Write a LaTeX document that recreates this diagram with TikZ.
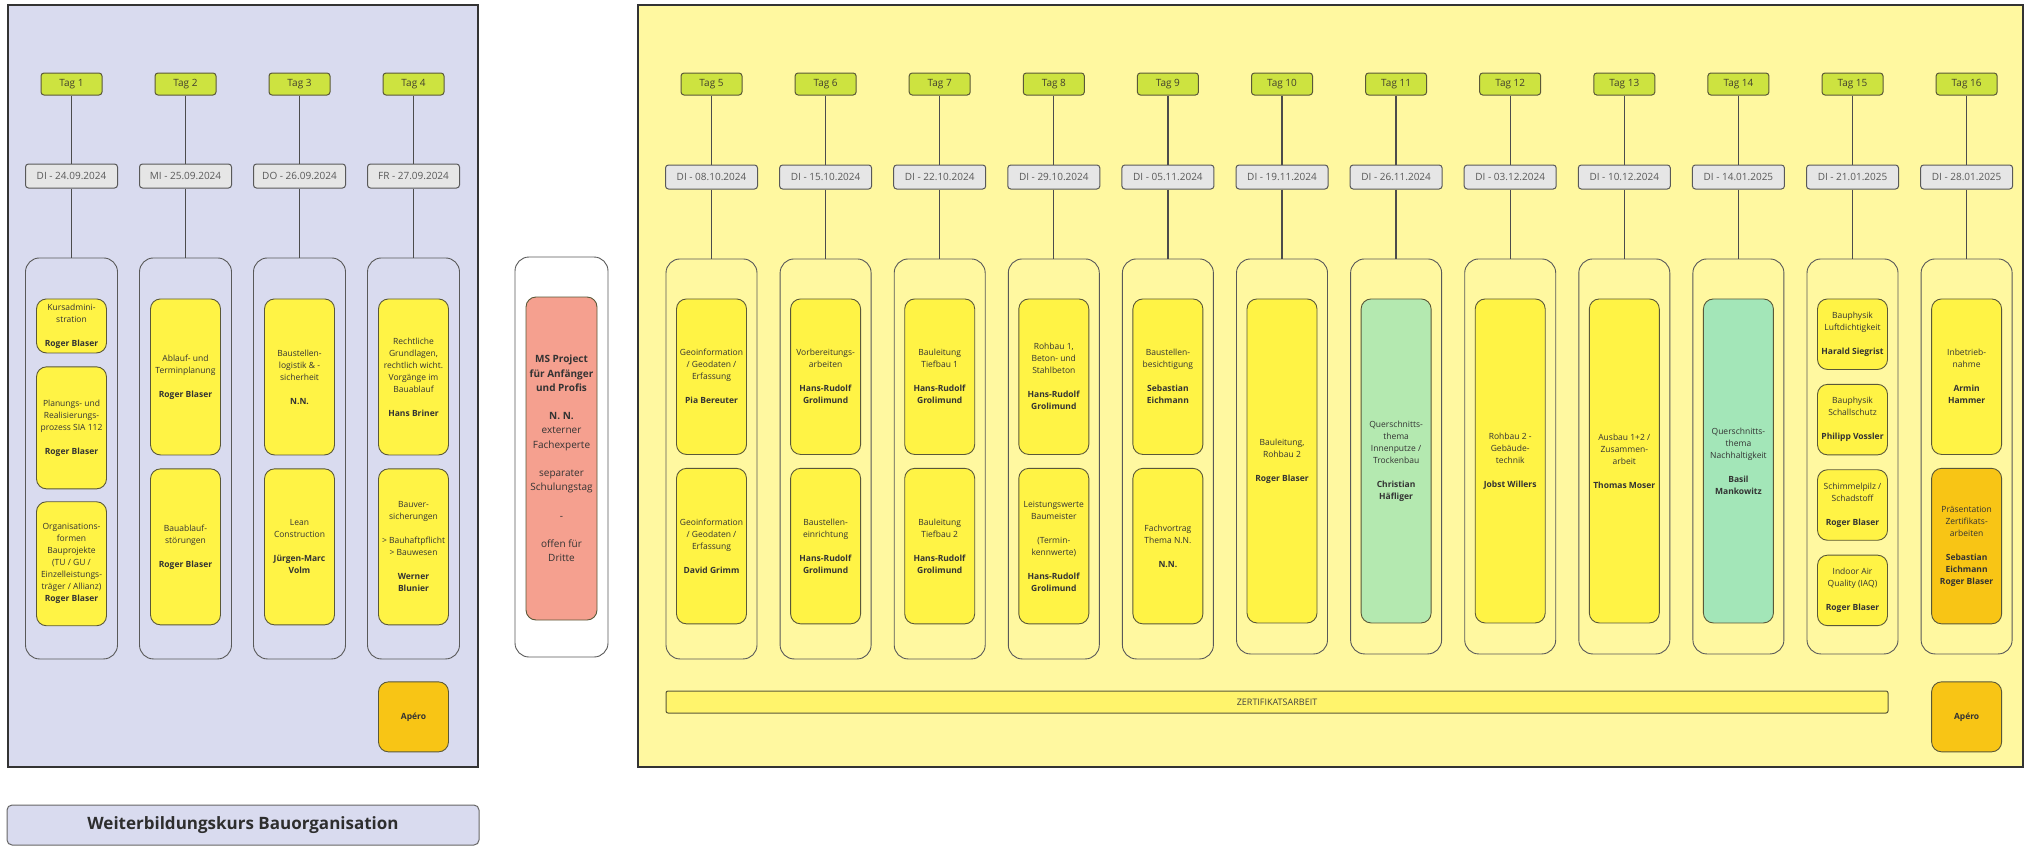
\documentclass[tikz,border=0pt]{standalone}
\usepackage{fontspec}
\setmainfont{Open Sans}
\usepackage{xcolor}
\usepackage{tikz}
\usetikzlibrary{positioning}

\definecolor{paneblue}{HTML}{D9DBEF}
\definecolor{paneyellow}{HTML}{FFF8A0}
\definecolor{daylime}{HTML}{CDE340}
\definecolor{daygrey}{HTML}{E6E6E6}
\definecolor{topicyellow}{HTML}{FFF345}
\definecolor{topicgreen}{HTML}{B4E9B0}
\definecolor{topicmint}{HTML}{A3E6B8}
\definecolor{topicorange}{HTML}{F8C515}
\definecolor{topicsalmon}{HTML}{F5A08F}
\definecolor{barfill}{HTML}{FFF46C}
\definecolor{boxline}{HTML}{5A5838}

\newcommand\daysize{\fontsize{10}{12}\selectfont}
\newcommand\topicsize{\fontsize{8.5}{12}\selectfont}
\newcommand\mssize{\fontsize{10}{14.2}\selectfont}

\begin{document}
\begin{tikzpicture}[x=1pt,y=-1pt,
  panel/.style={draw=black!80,line width=1.6pt},
  daytag/.style={draw=boxline,line width=1pt,rounded corners=3pt,fill=daylime,minimum width=61pt,minimum height=22pt,inner sep=0pt,font=\daysize,text=black!70!olive},
  datebox/.style={draw=black!65,line width=1pt,rounded corners=3pt,fill=daygrey,minimum width=92pt,minimum height=24pt,inner sep=0pt,font=\daysize,text=black!65},
  daycol/.style={draw=black!65,line width=0.9pt,rounded corners=14pt,minimum width=92pt,minimum height=401pt},
  topic/.style={draw=boxline,line width=0.9pt,rounded corners=10pt,fill=topicyellow,minimum width=70pt,minimum height=#1,inner sep=1pt,align=center,font=\topicsize,text=black!80},
  topic/.default=155.5pt,
  link/.style={draw=black!70,line width=1.3pt}
]
\useasboundingbox (0,0) rectangle (2025,846);

% two course blocks
\draw[panel,fill=paneblue] (8,5) rectangle (478,767);
\draw[panel,fill=paneyellow] (638,5) rectangle (2023,767);
\node[draw=black!60,line width=1pt,rounded corners=5pt,fill=paneblue,minimum width=472pt,minimum height=40pt,font=\fontsize{17}{20}\selectfont\bfseries,text=black!82] (title) at (243,825) {Weiterbildungskurs Bauorganisation};

% block 1: days 1-4
\node[daytag] (tag1) at (71.5,84) {Tag 1};
\node[daytag,right=52pt of tag1] (tag2) {Tag 2};
\node[daytag,right=52pt of tag2] (tag3) {Tag 3};
\node[daytag,right=52pt of tag3] (tag4) {Tag 4};
\node[datebox,below=68pt of tag1] (date1) {DI - 24.09.2024};
\node[datebox,below=68pt of tag2] (date2) {MI - 25.09.2024};
\node[datebox,below=68pt of tag3] (date3) {DO - 26.09.2024};
\node[datebox,below=68pt of tag4] (date4) {FR - 27.09.2024};
\node[daycol,below=69pt of date1] (col1) {};
\node[daycol,below=69pt of date2] (col2) {};
\node[daycol,below=69pt of date3] (col3) {};
\node[daycol,below=69pt of date4] (col4) {};

\node[topic=54pt,below=41pt of col1.north] (t1a) {Kursadmini-\\stration\\[12pt]\textbf{Roger Blaser}};
\node[topic=122pt,below=13pt of t1a] (t1b) {Planungs- und\\Realisierungs-\\prozess SIA 112\\[12pt]\textbf{Roger Blaser}};
\node[topic=124pt,below=12pt of t1b] (t1c) {Organisations-\\formen\\Bauprojekte\\(TU / GU /\\Einzelleistungs-\\träger / Allianz)\\\textbf{Roger Blaser}};
\node[topic=156pt,below=41pt of col2.north] (t2a) {Ablauf- und\\Terminplanung\\[12pt]\textbf{Roger Blaser}};
\node[topic=156pt,below=13pt of t2a] (t2b) {Bauablauf-\\störungen\\[12pt]\textbf{Roger Blaser}};
\node[topic=156pt,below=41pt of col3.north] (t3a) {Baustellen-\\logistik \& -\\sicherheit\\[12pt]\textbf{N.N.}};
\node[topic=156pt,below=13pt of t3a] (t3b) {Lean\\Construction\\[12pt]\textbf{Jürgen-Marc}\\\textbf{Volm}};
\node[topic=156pt,below=41pt of col4.north] (t4a) {Rechtliche\\Grundlagen,\\rechtlich wicht.\\Vorgänge im\\Bauablauf\\[12pt]\textbf{Hans Briner}};
\node[topic=156pt,below=13pt of t4a] (t4b) {Bauver-\\sicherungen\\[12pt]> Bauhaftpflicht\\> Bauwesen\\[12pt]\textbf{Werner}\\\textbf{Blunier}};
\node[topic=70pt,minimum width=70pt,fill=topicorange,font=\topicsize\bfseries,below=22pt of col4] (apero4) {Apéro};

% extra training day
\node[daycol,minimum width=93pt,minimum height=400pt,fill=white] (msday) at (561.5,457) {};
\node[topic=323pt,minimum width=71pt,fill=topicsalmon,font=\mssize,below=40pt of msday.north] (msbox) {\textbf{MS Project}\\\textbf{für Anfänger}\\\textbf{und Profis}\\[14.2pt]\textbf{N. N.}\\externer\\Fachexperte\\[14.2pt]separater\\Schulungstag\\[14.2pt]-\\[14.2pt]offen für\\Dritte};

% block 2: days 5-16
\node[daytag] (tag5) at (711.5,84) {Tag 5};
\node[daytag,right=52.1pt of tag5] (tag6) {Tag 6};
\node[daytag,right=52.1pt of tag6] (tag7) {Tag 7};
\node[daytag,right=52.1pt of tag7] (tag8) {Tag 8};
\node[daytag,right=52.1pt of tag8] (tag9) {Tag 9};
\node[daytag,right=52.1pt of tag9] (tag10) {Tag 10};
\node[daytag,right=52.1pt of tag10] (tag11) {Tag 11};
\node[daytag,right=52.1pt of tag11] (tag12) {Tag 12};
\node[daytag,right=52.1pt of tag12] (tag13) {Tag 13};
\node[daytag,right=52.1pt of tag13] (tag14) {Tag 14};
\node[daytag,right=52.1pt of tag14] (tag15) {Tag 15};
\node[daytag,right=52.1pt of tag15] (tag16) {Tag 16};
\node[datebox,below=69pt of tag5] (date5) {DI - 08.10.2024};
\node[datebox,below=69pt of tag6] (date6) {DI - 15.10.2024};
\node[datebox,below=69pt of tag7] (date7) {DI - 22.10.2024};
\node[datebox,below=69pt of tag8] (date8) {DI - 29.10.2024};
\node[datebox,below=69pt of tag9] (date9) {DI - 05.11.2024};
\node[datebox,below=69pt of tag10] (date10) {DI - 19.11.2024};
\node[datebox,below=69pt of tag11] (date11) {DI - 26.11.2024};
\node[datebox,below=69pt of tag12] (date12) {DI - 03.12.2024};
\node[datebox,below=69pt of tag13] (date13) {DI - 10.12.2024};
\node[datebox,below=69pt of tag14] (date14) {DI - 14.01.2025};
\node[datebox,below=69pt of tag15] (date15) {DI - 21.01.2025};
\node[datebox,below=69pt of tag16] (date16) {DI - 28.01.2025};
\node[daycol,minimum width=91pt,minimum height=400pt,below=69pt of date5] (col5) {};
\node[daycol,minimum width=91pt,minimum height=400pt,below=69pt of date6] (col6) {};
\node[daycol,minimum width=91pt,minimum height=400pt,below=69pt of date7] (col7) {};
\node[daycol,minimum width=91pt,minimum height=400pt,below=69pt of date8] (col8) {};
\node[daycol,minimum width=91pt,minimum height=400pt,below=69pt of date9] (col9) {};
\node[daycol,minimum width=91pt,minimum height=395pt,below=69pt of date10] (col10) {};
\node[daycol,minimum width=91pt,minimum height=395pt,below=69pt of date11] (col11) {};
\node[daycol,minimum width=91pt,minimum height=395pt,below=69pt of date12] (col12) {};
\node[daycol,minimum width=91pt,minimum height=395pt,below=69pt of date13] (col13) {};
\node[daycol,minimum width=91pt,minimum height=395pt,below=69pt of date14] (col14) {};
\node[daycol,minimum width=91pt,minimum height=395pt,below=69pt of date15] (col15) {};
\node[daycol,minimum width=91pt,minimum height=395pt,below=69pt of date16] (col16) {};

\node[topic,below=40pt of col5.north] (t5a) {Geoinformation\\/ Geodaten /\\Erfassung\\[12pt]\textbf{Pia Bereuter}};
\node[topic,below=13pt of t5a] (t5b) {Geoinformation\\/ Geodaten /\\Erfassung\\[12pt]\textbf{David Grimm}};
\node[topic,below=40pt of col6.north] (t6a) {Vorbereitungs-\\arbeiten\\[12pt]\textbf{Hans-Rudolf}\\\textbf{Grolimund}};
\node[topic,below=13pt of t6a] (t6b) {Baustellen-\\einrichtung\\[12pt]\textbf{Hans-Rudolf}\\\textbf{Grolimund}};
\node[topic,below=40pt of col7.north] (t7a) {Bauleitung\\Tiefbau 1\\[12pt]\textbf{Hans-Rudolf}\\\textbf{Grolimund}};
\node[topic,below=13pt of t7a] (t7b) {Bauleitung\\Tiefbau 2\\[12pt]\textbf{Hans-Rudolf}\\\textbf{Grolimund}};
\node[topic,below=40pt of col8.north] (t8a) {Rohbau 1,\\Beton- und\\Stahlbeton\\[12pt]\textbf{Hans-Rudolf}\\\textbf{Grolimund}};
\node[topic,below=13pt of t8a] (t8b) {Leistungswerte\\Baumeister\\[12pt](Termin-\\kennwerte)\\[12pt]\textbf{Hans-Rudolf}\\\textbf{Grolimund}};
\node[topic,below=40pt of col9.north] (t9a) {Baustellen-\\besichtigung\\[12pt]\textbf{Sebastian}\\\textbf{Eichmann}};
\node[topic,below=13pt of t9a] (t9b) {Fachvortrag\\Thema N.N.\\[12pt]\textbf{N.N.}};
\node[topic=324pt,below=40pt of col10.north] (t10) {Bauleitung,\\Rohbau 2\\[12pt]\textbf{Roger Blaser}};
\node[topic=324pt,fill=topicgreen,below=40pt of col11.north] (t11) {Querschnitts-\\thema\\Innenputze /\\Trockenbau\\[12pt]\textbf{Christian}\\\textbf{Häfliger}};
\node[topic=324pt,below=40pt of col12.north] (t12) {Rohbau 2 -\\Gebäude-\\technik\\[12pt]\textbf{Jobst Willers}};
\node[topic=324pt,below=40pt of col13.north] (t13) {Ausbau 1+2 /\\Zusammen-\\arbeit\\[12pt]\textbf{Thomas Moser}};
\node[topic=324pt,fill=topicmint,below=40pt of col14.north] (t14) {Querschnitts-\\thema\\Nachhaltigkeit\\[12pt]\textbf{Basil}\\\textbf{Mankowitz}};
\node[topic=70.5pt,below=40pt of col15.north] (t15a) {Bauphysik\\Luftdichtigkeit\\[12pt]\textbf{Harald Siegrist}};
\node[topic=70.5pt,below=14pt of t15a] (t15b) {Bauphysik\\Schallschutz\\[12pt]\textbf{Philipp Vossler}};
\node[topic=70.5pt,below=14pt of t15b] (t15c) {Schimmelpilz /\\Schadstoff\\[12pt]\textbf{Roger Blaser}};
\node[topic=70.5pt,below=14pt of t15c] (t15d) {Indoor Air\\Quality (IAQ)\\[12pt]\textbf{Roger Blaser}};
\node[topic,below=40pt of col16.north] (t16a) {Inbetrieb-\\nahme\\[12pt]\textbf{Armin}\\\textbf{Hammer}};
\node[topic,fill=topicorange,below=13pt of t16a] (t16b) {Präsentation\\Zertifikats-\\arbeiten\\[12pt]\textbf{Sebastian}\\\textbf{Eichmann}\\\textbf{Roger Blaser}};

\node[draw=boxline,line width=1pt,rounded corners=2pt,fill=barfill,minimum width=1222pt,minimum height=22pt,inner sep=0pt,font=\fontsize{9}{11}\selectfont,text=black!75] (zert) at (1277,702) {ZERTIFIKATSARBEIT};
\node[topic=70pt,fill=topicorange,font=\topicsize\bfseries,below=27pt of col16] (apero16) {Apéro};

% day stems
\draw[link] (tag1) -- (date1) -- (col1);
\draw[link] (tag2) -- (date2) -- (col2);
\draw[link] (tag3) -- (date3) -- (col3);
\draw[link] (tag4) -- (date4) -- (col4);
\draw[link] (tag5) -- (date5) -- (col5);
\draw[link] (tag6) -- (date6) -- (col6);
\draw[link] (tag7) -- (date7) -- (col7);
\draw[link] (tag8) -- (date8) -- (col8);
\draw[link] (tag9) -- (date9) -- (col9);
\draw[link] (tag10) -- (date10) -- (col10);
\draw[link] (tag11) -- (date11) -- (col11);
\draw[link] (tag12) -- (date12) -- (col12);
\draw[link] (tag13) -- (date13) -- (col13);
\draw[link] (tag14) -- (date14) -- (col14);
\draw[link] (tag15) -- (date15) -- (col15);
\draw[link] (tag16) -- (date16) -- (col16);
\end{tikzpicture}
\end{document}
